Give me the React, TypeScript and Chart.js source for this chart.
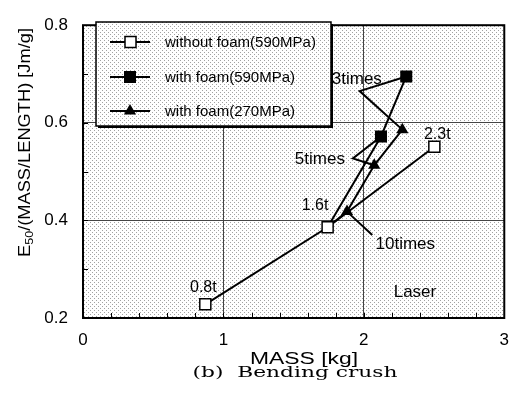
import React, { useEffect, useRef } from "react";
import { Chart, registerables } from "chart.js";
Chart.register(...registerables);

// ---- data ----
const withoutFoamX = [0.871, 1.742, 2.502];
const withoutFoamY = [0.228, 0.386, 0.551];
const foam590X = [1.742, 2.122, 2.302];
const foam590Y = [0.386, 0.572, 0.695];
const foam270X = [1.742, 1.88, 2.074, 2.274];
const foam270Y = [0.386, 0.418, 0.513, 0.586];
const seriesNames = ["without foam(590MPa)", "with foam(590MPa)", "with foam(270MPa)"];
const xTickValues = [0, 1, 2, 3];
const yTickValues = [0.2, 0.4, 0.6, 0.8];

const noteTexts = ["0.8t", "1.6t", "2.3t", "3times", "5times", "10times", "Laser"];
const noteX = [0.857, 1.652, 2.523, 1.95, 1.687, 2.295, 2.364];
const noteY = [0.263, 0.43, 0.576, 0.689, 0.525, 0.352, 0.253];
// leader lines (data coordinates)
const leader3X = [2.302, 1.97, 2.274];
const leader3Y = [0.695, 0.665, 0.586];
const leader5X = [2.122, 1.922, 2.074];
const leader5Y = [0.572, 0.527, 0.513];
const leader10X = [1.88, 2.06];
const leader10Y = [0.418, 0.37];

const SANS = "Arial, 'Liberation Sans', sans-serif";
const SERIF = "'DejaVu Serif', 'Liberation Serif', serif";

function fitText(ctx: CanvasRenderingContext2D, text: string, x: number, y: number, font: string, width: number) {
  ctx.save();
  ctx.font = font;
  const m = ctx.measureText(text).width;
  ctx.translate(x, y);
  ctx.scale(width / m, 1);
  ctx.textAlign = "center";
  ctx.textBaseline = "alphabetic";
  ctx.fillStyle = "#000";
  ctx.fillText(text, 0, 0);
  ctx.restore();
}

export default function App() {
  const ref = useRef<HTMLCanvasElement | null>(null);
  useEffect(() => {
    document.body.style.margin = "0";
    const canvas = ref.current!;
    const ctx0 = canvas.getContext("2d")!;
    const pc = document.createElement("canvas");
    pc.width = 4;
    pc.height = 4;
    const g = pc.getContext("2d")!;
    g.fillStyle = "#fff";
    g.fillRect(0, 0, 4, 4);
    g.fillStyle = "#a2a2a2";
    g.fillRect(0, 0, 1, 1);
    g.fillRect(2, 2, 1, 1);
    const pattern = ctx0.createPattern(pc, "repeat")!;

    const plugin = {
      id: "deco",
      beforeDraw(chart: any) {
        const { ctx, chartArea: a } = chart;
        ctx.save();
        ctx.fillStyle = "#fff";
        ctx.fillRect(0, 0, chart.width, chart.height);
        ctx.fillStyle = pattern;
        ctx.fillRect(a.left, a.top, a.right - a.left, a.bottom - a.top);
        ctx.restore();
      },
      afterDatasetsDraw(chart: any) {
        const { ctx, chartArea: a } = chart;
        const xs = chart.scales.x;
        const ys = chart.scales.y;
        ctx.save();
        // minor ticks
        ctx.strokeStyle = "#000";
        ctx.lineWidth = 1;
        ctx.beginPath();
        for (let i = 1; i < 15; i++) {
          const px = Math.round(xs.getPixelForValue(i * 0.2)) + 0.5;
          ctx.moveTo(px, a.bottom);
          ctx.lineTo(px, a.bottom - 5);
        }
        for (let i = 1; i < 6; i++) {
          const py = Math.round(ys.getPixelForValue(0.2 + i * 0.1)) + 0.5;
          ctx.moveTo(a.left, py);
          ctx.lineTo(a.left + 5, py);
        }
        ctx.stroke();
        // leader lines
        ctx.lineWidth = 2;
        const leaders: [number[], number[]][] = [
          [leader3X, leader3Y],
          [leader5X, leader5Y],
          [leader10X, leader10Y],
        ];
        for (const [lx, ly] of leaders) {
          ctx.beginPath();
          lx.forEach((v, i) => {
            const px = xs.getPixelForValue(v);
            const py = ys.getPixelForValue(ly[i]);
            if (i === 0) ctx.moveTo(px, py);
            else ctx.lineTo(px, py);
          });
          ctx.stroke();
        }
        // notes
        ctx.fillStyle = "#000";
        ctx.textAlign = "center";
        ctx.textBaseline = "middle";
        noteTexts.forEach((t, i) => {
          ctx.font = (i < 3 ? "16px " : "17px ") + SANS;
          ctx.fillText(t, xs.getPixelForValue(noteX[i]), ys.getPixelForValue(noteY[i]));
        });
        // border
        ctx.lineWidth = 2;
        ctx.strokeRect(a.left, a.top, a.right - a.left, a.bottom - a.top);
        ctx.restore();
      },
      afterDraw(chart: any) {
        const { ctx } = chart;
        ctx.save();
        // legend box
        const lx = 96, ly = 22, lw = 235, lh = 104;
        ctx.fillStyle = "#000";
        ctx.fillRect(lx + 2, ly + 2, lw, lh);
        ctx.fillStyle = pattern;
        ctx.fillRect(lx, ly, lw, lh);
        ctx.strokeStyle = "#000";
        ctx.lineWidth = 1.5;
        ctx.strokeRect(lx, ly, lw, lh);
        const rows = [42, 77, 111];
        rows.forEach((ry, i) => {
          ctx.lineWidth = 2;
          ctx.beginPath();
          ctx.moveTo(110, ry);
          ctx.lineTo(150, ry);
          ctx.stroke();
          ctx.fillStyle = "#000";
          if (i === 0) {
            ctx.fillStyle = "#fff";
            ctx.fillRect(125, ry - 5.5, 11, 11);
            ctx.lineWidth = 1.5;
            ctx.strokeRect(125, ry - 5.5, 11, 11);
          } else if (i === 1) {
            ctx.fillRect(124, ry - 6, 12, 12);
          } else {
            ctx.beginPath();
            ctx.moveTo(130, ry - 7);
            ctx.lineTo(136.1, ry + 3.5);
            ctx.lineTo(123.9, ry + 3.5);
            ctx.closePath();
            ctx.fill();
          }
          ctx.fillStyle = "#000";
          ctx.font = "15px " + SANS;
          ctx.textAlign = "left";
          ctx.textBaseline = "middle";
          ctx.fillText(seriesNames[i], 165, ry + 1);
        });
        // axis titles
        fitText(ctx, "MASS [kg]", 304, 364, "16px " + SANS, 108);
        fitText(ctx, "(b)  Bending crush", 295, 377, "14px " + SERIF, 205);
        // y title with subscript
        ctx.save();
        ctx.translate(29.5, 142.5);
        ctx.rotate(-Math.PI / 2);
        const f1 = "16px " + SANS, f2 = "11px " + SANS;
        const rest = "/(MASS/LENGTH) [Jm/g]";
        ctx.font = f1;
        const wE = ctx.measureText("E").width;
        const wR = ctx.measureText(rest).width;
        ctx.font = f2;
        const wS = ctx.measureText("50").width;
        const total = wE + wS + wR;
        const s = 229 / total;
        ctx.scale(s, 1);
        ctx.textAlign = "left";
        ctx.textBaseline = "alphabetic";
        ctx.fillStyle = "#000";
        let cx = -total / 2;
        ctx.font = f1;
        ctx.fillText("E", cx, 0);
        cx += wE;
        ctx.font = f2;
        ctx.fillText("50", cx, 3);
        cx += wS;
        ctx.font = f1;
        ctx.fillText(rest, cx, 0);
        ctx.restore();
        ctx.restore();
      },
    };

    const toPts = (xs: number[], ys: number[]) => xs.map((x, i) => ({ x, y: ys[i] }));
    const chart = new Chart(canvas, {
      type: "scatter",
      data: {
        datasets: [
          {
            label: seriesNames[0],
            data: toPts(withoutFoamX, withoutFoamY),
            showLine: true,
            borderColor: "#000",
            borderWidth: 2,
            pointStyle: "rect",
            pointRadius: 7.8,
            pointBackgroundColor: "#fff",
            pointBorderColor: "#000",
            pointBorderWidth: 1.5,
          },
          {
            label: seriesNames[1],
            data: toPts(foam590X, foam590Y),
            showLine: true,
            borderColor: "#000",
            borderWidth: 2,
            pointStyle: "rect",
            pointRadius: foam590X.map((_, i) => (i === 0 ? 0 : 8.5)),
            pointBackgroundColor: "#000",
            pointBorderColor: "#000",
            pointBorderWidth: 0,
          },
          {
            label: seriesNames[2],
            data: toPts(foam270X, foam270Y),
            showLine: true,
            borderColor: "#000",
            borderWidth: 2,
            pointStyle: "triangle",
            pointRadius: foam270X.map((_, i) => (i === 0 ? 0 : 7)),
            pointBackgroundColor: "#000",
            pointBorderColor: "#000",
            pointBorderWidth: 0,
          },
        ],
      },
      options: {
        animation: false,
        responsive: false,
        devicePixelRatio: 1,
        events: [],
        layout: { padding: { top: 15, left: 0, right: 0, bottom: 0 } },
        plugins: { legend: { display: false }, tooltip: { enabled: false } },
        scales: {
          x: {
            type: "linear",
            min: 0,
            max: 3,
            afterBuildTicks: (sc: any) => {
              sc.ticks = xTickValues.map((v) => ({ value: v }));
            },
            afterFit: (sc: any) => {
              sc.height = 81;
            },
            ticks: { font: { size: 17, family: SANS }, color: "#000", padding: 12, maxRotation: 0 },
            grid: { color: "#444", lineWidth: 1, drawTicks: false },
            border: { display: false },
          },
          y: {
            type: "linear",
            min: 0.2,
            max: 0.8,
            afterBuildTicks: (sc: any) => {
              sc.ticks = yTickValues.map((v) => ({ value: v }));
            },
            afterFit: (sc: any) => {
              sc.width = 83;
            },
            ticks: {
              font: { size: 17, family: SANS },
              color: "#000",
              padding: 15,
              callback: (v: any) => Number(v).toFixed(1),
            },
            grid: { color: "#444", lineWidth: 1, drawTicks: false },
            border: { display: false },
          },
        },
      },
      plugins: [plugin],
    });
    return () => chart.destroy();
  }, []);
  return (
    <div style={{ width: 521, height: 399, position: "relative" }}>
      <canvas ref={ref} width={521} height={399} style={{ width: 521, height: 399, display: "block" }} />
    </div>
  );
}
